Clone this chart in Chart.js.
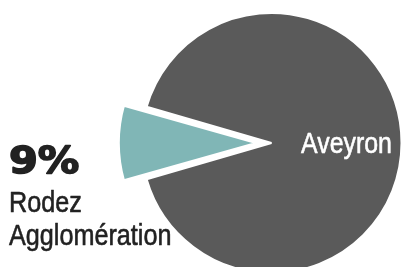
<!DOCTYPE html>
<html>
<head>
<meta charset="utf-8">
<script src="https://cdn.jsdelivr.net/npm/chart.js@4"></script>
<style>
  html, body { margin: 0; padding: 0; background: #fff; }
  #wrap { width: 402px; height: 267px; }
</style>
</head>
<body>
<div id="wrap"><canvas id="pie" width="402" height="267"></canvas></div>
<script>
const labels = ['Aveyron', 'Rodez Agglomération'];
const values = [91, 9];
const colors = ['#5a5a5a', '#80b6b6'];
const offsets = [0, 62];

const sans = '"Liberation Sans", Arial, sans-serif';

// draw text squeezed horizontally (condensed look), slightly thickened
function squeezed(ctx, text, x, y, sx, halo, weight) {
    ctx.save();
    ctx.translate(x, y);
    ctx.scale(sx, 1);
    if (halo) {
        ctx.lineWidth = 5;
        ctx.strokeStyle = '#ffffff';
        ctx.strokeText(text, 0, 0);
    }
    ctx.fillText(text, 0, 0);
    ctx.lineWidth = weight;
    ctx.strokeStyle = ctx.fillStyle;
    ctx.strokeText(text, 0, 0);
    ctx.restore();
}

const pieLabels = {
    id: 'pieLabels',
    afterDatasetsDraw(chart) {
        const ctx = chart.ctx;
        const arcs = chart.getDatasetMeta(0).data;
        ctx.save();
        ctx.textBaseline = 'alphabetic';
        ctx.lineJoin = 'round';

        const big = arcs[0].getCenterPoint();
        ctx.font = '30px ' + sans;
        ctx.fillStyle = '#ffffff';
        ctx.textAlign = 'center';
        squeezed(ctx, labels[0], big.x + 10, big.y + 10, 0.83, false, 0.6);

        ctx.textAlign = 'left';
        ctx.fillStyle = '#222222';
        ctx.font = 'bold 37px "DejaVu Sans", sans-serif';
        squeezed(ctx, values[1] + '%', 9, 173, 1.12, false, 1.6);

        const words = labels[1].split(' ');
        ctx.font = '30px ' + sans;
        squeezed(ctx, words[0], 9, 212, 0.84, true, 0.6);
        squeezed(ctx, words[1], 9, 245, 0.84, true, 0.6);
        ctx.restore();
    }
};

new Chart(document.getElementById('pie'), {
    type: 'pie',
    data: {
        labels: labels,
        datasets: [{
            data: values,
            backgroundColor: colors,
            borderColor: '#ffffff',
            borderWidth: 2,
            offset: offsets,
            clip: false,
        }],
    },
    options: {
        responsive: false,
        animation: false,
        events: [],
        rotation: -73.8,
        radius: 130,
        layout: { padding: { left: 141, right: 0, top: 19, bottom: 0 } },
        plugins: {
            legend: { display: false },
            tooltip: { enabled: false },
        },
    },
    plugins: [pieLabels],
});
</script>
</body>
</html>
